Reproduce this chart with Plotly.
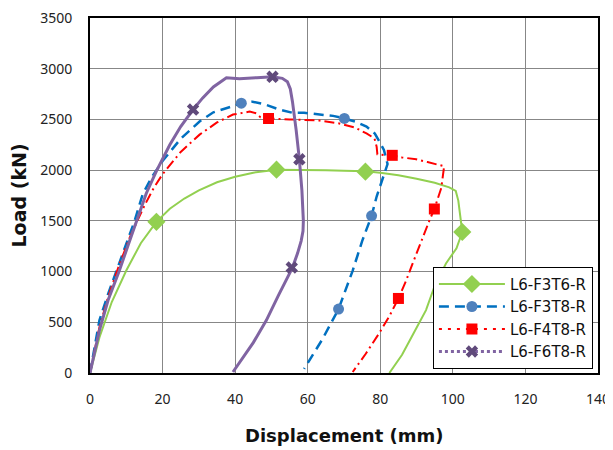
import plotly.graph_objects as go

# ---- data (displacement mm, load kN) ----
names = ["L6-F3T6-R", "L6-F3T8-R", "L6-F4T8-R", "L6-F6T8-R"]

f3t6_x = [0, 1.2, 2.6, 6, 10, 14, 18.3, 22, 26, 30, 35, 40, 45, 51.4, 58, 65, 70, 75.9, 80, 85, 90, 95, 99, 100.8, 101.5, 102, 102.6, 101, 98.1, 95, 92.6, 89, 86, 82.5]
f3t6_y = [0, 160, 350, 700, 1010, 1280, 1490, 1620, 1720, 1800, 1880, 1935, 1975, 2005, 2005, 2000, 1995, 1990, 1975, 1950, 1915, 1875, 1830, 1795, 1700, 1550, 1390, 1230, 1080, 860, 620, 380, 180, 0]
f3t6_mx = [18.3, 51.4, 75.9, 102.6]
f3t6_my = [1490, 2005, 1985, 1390]

f3t8_x = [0, 1, 2.6, 5, 7.3, 10, 12.3, 14.5, 17, 20, 25, 30.2, 34, 38.4, 41.7, 44.8, 48, 52, 55.8, 59, 63.2, 67, 70.1, 73, 76.2, 78.5, 79.7, 81, 82, 80.6, 79, 77.6, 75, 72.4, 70.5, 68.5, 64, 59.6, 59]
f3t8_y = [0, 200, 520, 780, 1010, 1260, 1500, 1760, 1930, 2090, 2310, 2480, 2570, 2620, 2660, 2675, 2650, 2600, 2565, 2565, 2550, 2535, 2510, 2480, 2430, 2360, 2285, 2200, 2060, 1920, 1740, 1550, 1300, 1010, 820, 630, 330, 80, 40]
f3t8_mx = [41.7, 70.1, 77.6, 68.5]
f3t8_my = [2660, 2510, 1550, 630]

f4t8_x = [0, 0.8, 2.6, 5, 8, 11, 13, 15, 17.5, 20, 25, 30.2, 35, 39.4, 44, 45.8, 47, 49.2, 55, 63.2, 68.7, 73, 76.2, 78.4, 79, 79.2, 81, 83.3, 86, 89.9, 93, 95.4, 97.6, 96.8, 94.9, 93.5, 91, 88.9, 87, 85, 82.5, 79.7, 76, 72.4]
f4t8_y = [0, 150, 450, 750, 1060, 1340, 1500, 1650, 1820, 1960, 2180, 2350, 2470, 2548, 2577, 2560, 2520, 2509, 2500, 2489, 2460, 2420, 2362, 2313, 2230, 2156, 2150, 2146, 2125, 2107, 2080, 2058, 2038, 1823, 1617, 1500, 1280, 1078, 900, 735, 560, 392, 190, 10]
f4t8_mx = [49.2, 83.3, 94.9, 85.0]
f4t8_my = [2509, 2146, 1617, 735]

f6t8_x = [0, 1, 2.6, 5, 8.1, 10.5, 12.8, 15.5, 18.3, 22, 25, 28.4, 31, 34, 37.6, 41.2, 46, 50.3, 53, 54.4, 55.2, 55.8, 56.8, 57.7, 58.4, 58.8, 58.7, 58.2, 57.2, 55.8, 52, 48.6, 45, 42, 39.4]
f6t8_y = [0, 170, 420, 720, 1010, 1260, 1500, 1770, 1990, 2250, 2430, 2597, 2710, 2820, 2911, 2901, 2912, 2920, 2905, 2871, 2800, 2675, 2400, 2107, 1800, 1500, 1400, 1303, 1180, 1039, 770, 519, 300, 140, 10]
f6t8_mx = [28.4, 50.3, 57.7, 55.6]
f6t8_my = [2597, 2920, 2107, 1040]

x_ticks = [0, 20, 40, 60, 80, 100, 120, 140]
y_ticks = [0, 500, 1000, 1500, 2000, 2500, 3000, 3500]
x_title = "Displacement (mm)"
y_title = "Load (kN)"

# ---- styles ----
styles = [
    dict(lc="#92D050", mc="#92D050", dash="solid", w=2, sym="diamond", ms=14, ldash="solid"),
    dict(lc="#0070C0", mc="#4F81BD", dash="10px,6px", w=2.5, sym="circle", ms=11, ldash="10px,6px"),
    dict(lc="#FF0000", mc="#FF0000", dash="10px,4px,2px,4px", w=2, sym="square", ms=11, ldash="3px,6px"),
    dict(lc="#8064A2", mc="#604A7B", dash="solid", w=3, sym="x", ms=11, ldash="dot"),
]
series = [
    (f3t6_x, f3t6_y, f3t6_mx, f3t6_my),
    (f3t8_x, f3t8_y, f3t8_mx, f3t8_my),
    (f4t8_x, f4t8_y, f4t8_mx, f4t8_my),
    (f6t8_x, f6t8_y, f6t8_mx, f6t8_my),
]

fig = go.Figure()
for name, (sx, sy, mx, my), st in zip(names, series, styles):
    fig.add_trace(go.Scatter(x=sx, y=sy, mode="lines", showlegend=False,
                             line=dict(color=st["lc"], width=st["w"], dash=st["dash"])))
    fig.add_trace(go.Scatter(x=mx, y=my, mode="markers", showlegend=False,
                             marker=dict(color=st["mc"], symbol=st["sym"], size=st["ms"],
                                         line=dict(width=0))))
    fig.add_trace(go.Scatter(x=[None], y=[None], mode="lines+markers", name=name,
                             line=dict(color=st["lc"], width=st["w"], dash=st["ldash"]),
                             marker=dict(color=st["mc"], symbol=st["sym"], size=st["ms"])))

tick_font = dict(family="Noto Sans, sans-serif", size=14, color="#222")

axis_common = dict(showgrid=True, gridcolor="#878787", gridwidth=1, zeroline=False,
                   showline=True, linecolor="black", linewidth=2, mirror=True,
                   ticks="", tickfont=tick_font, automargin=False, ticklabeloverflow="allow")

fig.update_xaxes(range=[0, 140], tickvals=x_ticks, ticklabelstandoff=12, **axis_common)
fig.update_yaxes(range=[0, 3500], tickvals=y_ticks, ticklabelstandoff=13, **axis_common)

# axis titles as annotations (page body has an 8px offset; figure is sized to fit)
fig.add_annotation(text="<b>" + x_title + "</b>", xref="paper", yref="paper", x=0.5, y=0,
                   yanchor="middle", yshift=-62, showarrow=False,
                   font=dict(family="DejaVu Sans, sans-serif", size=18, color="#111"))
fig.add_annotation(text="<b>" + y_title + "</b>", xref="paper", yref="paper", x=0, y=0.5,
                   xanchor="center", xshift=-72, textangle=-90, showarrow=False,
                   font=dict(family="DejaVu Sans, sans-serif", size=19, color="#111"))

fig.update_layout(
    width=605, height=444,
    margin=dict(l=82, r=15, t=10, b=79, autoexpand=False),
    plot_bgcolor="white", paper_bgcolor="white",
    legend=dict(x=0.99, y=0.012, xanchor="right", yanchor="bottom",
                bgcolor="white", bordercolor="black", borderwidth=1,
                font=dict(family="DejaVu Sans, sans-serif", size=15, color="#111"),
                tracegroupgap=0, itemwidth=66),
)

fig.write_html("out.html")
